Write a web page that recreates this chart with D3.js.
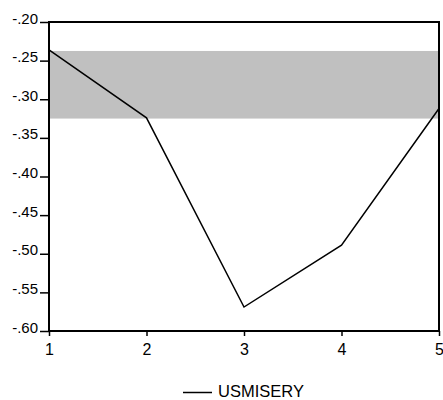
<!DOCTYPE html>
<html><head><meta charset="utf-8">
<script src="https://cdn.jsdelivr.net/npm/d3@7"></script>
<style>body{margin:0;background:#fff}svg{display:block}</style>
</head><body>
<svg id="c" width="443" height="400"></svg>
<script>
const xs = [1, 2, 3, 4, 5];
const usmisery = [-0.236, -0.324, -0.569, -0.489, -0.312];
const bandRange = [-0.2375, -0.325];
const yTicks = [-0.20, -0.25, -0.30, -0.35, -0.40, -0.45, -0.50, -0.55, -0.60];
const yTickLabels = ["-.20", "-.25", "-.30", "-.35", "-.40", "-.45", "-.50", "-.55", "-.60"];
const seriesName = "USMISERY";

const svg = d3.select("#c");
const L = 49, R = 439, T = 22, B = 331;
const x = d3.scaleLinear().domain([1, 5]).range([L, R]);
const y = d3.scaleLinear().domain([-0.60, -0.20]).range([B, T]);
const font = "'Liberation Sans', Arial, sans-serif";

svg.append("rect").attr("x", L).attr("width", R - L)
  .attr("y", y(bandRange[0])).attr("height", y(bandRange[1]) - y(bandRange[0]))
  .attr("fill", "#c0c0c0");

const yAxis = d3.axisLeft(y).tickValues(yTicks).tickSize(9).tickPadding(2)
  .tickFormat((d, i) => yTickLabels[i]);
const gy = svg.append("g").attr("transform", `translate(${L},0)`).call(yAxis);
gy.select(".domain").remove();
gy.selectAll("line").attr("stroke", "#000").attr("stroke-width", 1.5);
gy.selectAll("text").attr("font-family", font).attr("font-size", 15).attr("fill", "#000")
  .attr("dy", "0").attr("y", 1);

const xAxis = d3.axisBottom(x).tickValues(xs).tickSize(5).tickPadding(8).tickFormat(d3.format("d"));
const gx = svg.append("g").attr("transform", `translate(0,${B})`).call(xAxis);
gx.select(".domain").remove();
gx.selectAll("line").attr("stroke", "#000").attr("stroke-width", 1.5);
gx.selectAll("text").attr("font-family", font).attr("font-size", 16).attr("fill", "#000");

svg.append("path").datum(xs.map((d, i) => [d, usmisery[i]]))
  .attr("d", d3.line().x(d => x(d[0])).y(d => y(d[1])))
  .attr("fill", "none").attr("stroke", "#000").attr("stroke-width", 1.5);

svg.append("rect").attr("x", L).attr("y", T).attr("width", R - L).attr("height", B - T)
  .attr("fill", "none").attr("stroke", "#000").attr("stroke-width", 2);

const lg = svg.append("g");
lg.append("line").attr("x1", 183).attr("x2", 212).attr("y1", 392.5).attr("y2", 392.5)
  .attr("stroke", "#000").attr("stroke-width", 1.5);
lg.append("text").attr("x", 218).attr("y", 397).text(seriesName)
  .attr("font-family", font).attr("font-size", 16.5).attr("fill", "#000");
</script>
</body></html>
